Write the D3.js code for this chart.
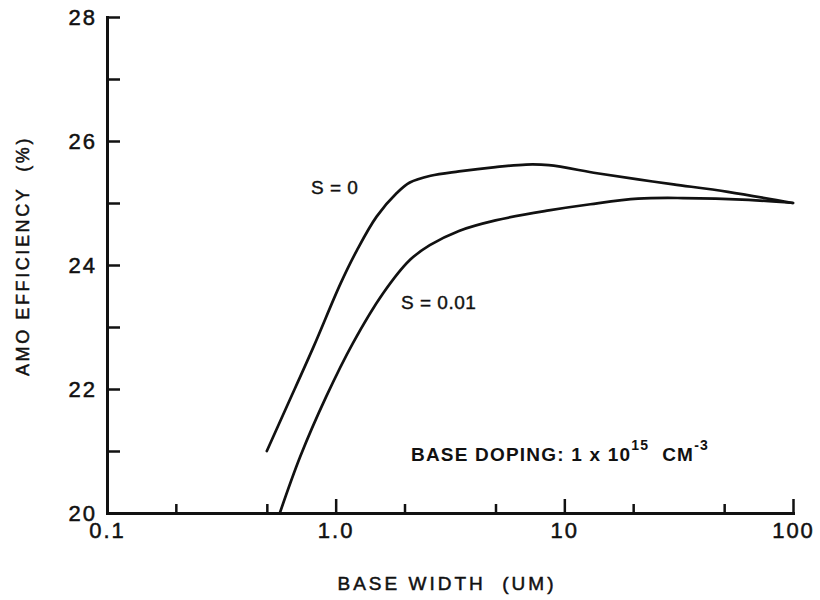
<!DOCTYPE html>
<html>
<head>
<meta charset="utf-8">
<script src="https://cdn.jsdelivr.net/npm/d3@7"></script>
<style>
  body { margin: 0; background: #fff; }
  text { font-family: "Liberation Sans", Arial, sans-serif; fill: #111; }
</style>
</head>
<body>
<script>
var width = 820,
    height = 600;

var margin = {top: 17, right: 27, bottom: 87, left: 107};

// base width (um) and AMO efficiency (%)
var s0_width = [0.5, 0.61, 0.8, 1.05, 1.24, 1.51, 1.85, 2.11, 2.6, 3.46, 5, 6.8, 8.55, 13.9, 21, 30, 51.9, 100];
var s0_eff   = [21.0, 21.71, 22.68, 23.70, 24.24, 24.78, 25.16, 25.33, 25.44, 25.51, 25.58, 25.62, 25.61, 25.48, 25.38, 25.3, 25.18, 25.0];

var s001_width = [0.57, 0.7, 0.91, 1.19, 1.61, 2.11, 2.58, 3.46, 5.0, 8.55, 13, 21, 33, 64, 100];
var s001_eff   = [20.0, 20.91, 21.88, 22.74, 23.54, 24.08, 24.32, 24.55, 24.72, 24.88, 24.98, 25.07, 25.08, 25.05, 25.0];

var xMajor = [0.1, 1, 10, 100],
    xMinor = [0.2, 0.5, 2, 5, 20, 50],
    xLabels = ["0.1", "1.0", "10", "100"];
var yTicks = [20, 21, 22, 23, 24, 25, 26, 27, 28],
    yLabeled = [20, 22, 24, 26, 28];

var svg = d3.select("body").append("svg")
    .attr("width", width)
    .attr("height", height);

var xScale = d3.scaleLog()
    .domain([0.1, 100])
    .range([margin.left, width - margin.right]);

var yScale = d3.scaleLinear()
    .domain([20, 28])
    .range([height - margin.bottom, margin.top]);

var y0 = height - margin.bottom;

// x axis, major ticks + labels
var axisX = d3.axisBottom(xScale)
    .tickValues(xMajor)
    .tickSizeInner(-14)
    .tickSizeOuter(0)
    .tickPadding(9)
    .tickFormat(function (d, i) { return xLabels[i]; });

svg.append("g")
    .attr("transform", "translate(0," + y0 + ")")
    .call(axisX);

svg.append("g")
    .attr("transform", "translate(0," + y0 + ")")
    .call(d3.axisBottom(xScale).tickValues(xMinor).tickSizeInner(-9).tickSizeOuter(0).tickFormat(""))
    .select(".domain").remove();

var axisY = d3.axisLeft(yScale)
    .tickValues(yTicks)
    .tickSizeInner(-13)
    .tickSizeOuter(0)
    .tickPadding(10)
    .tickFormat(function (d) { return yLabeled.indexOf(d) >= 0 ? d : ""; });

svg.append("g")
    .attr("transform", "translate(" + margin.left + ",0)")
    .call(axisY);

svg.selectAll(".domain").attr("stroke", "#111").attr("stroke-width", 3).attr("stroke-linecap", "square");
svg.selectAll(".tick line").attr("stroke", "#111").attr("stroke-width", 2.5);
svg.selectAll(".tick text")
    .style("font-family", "'Liberation Sans', Arial, sans-serif")
    .style("font-size", "22px")
    .style("letter-spacing", "2px")
    .attr("fill", "#111")
    .attr("stroke", "#111")
    .attr("stroke-width", 0.5);

// axis titles
svg.append("text")
    .attr("transform", "translate(29,256) rotate(-90)")
    .attr("text-anchor", "middle")
    .attr("stroke", "#111").attr("stroke-width", 0.5)
    .style("font-size", "18px")
    .style("letter-spacing", "2.6px")
    .style("white-space", "pre")
    .text("AMO EFFICIENCY  (%)");

svg.append("text")
    .attr("x", 447)
    .attr("y", 590)
    .attr("text-anchor", "middle")
    .attr("stroke", "#111").attr("stroke-width", 0.5)
    .style("font-size", "19px")
    .style("letter-spacing", "3px")
    .style("white-space", "pre")
    .text("BASE WIDTH  (UM)");

// curves
var line = d3.line()
    .x(function (d) { return xScale(d[0]); })
    .y(function (d) { return yScale(d[1]); })
    .curve(d3.curveCatmullRom.alpha(0.5));

var curves = [
    {name: "S = 0", pts: d3.zip(s0_width, s0_eff)},
    {name: "S = 0.01", pts: d3.zip(s001_width, s001_eff)}
];

curves.forEach(function (c) {
    svg.append("path")
        .datum(c.pts)
        .attr("fill", "none")
        .attr("stroke", "#111")
        .attr("stroke-width", 2.7)
        .attr("stroke-linecap", "round")
        .attr("d", line);
});

// labels on curves
svg.append("text")
    .attr("x", 311).attr("y", 194)
    .attr("stroke", "#111").attr("stroke-width", 0.4)
    .style("font-size", "19px")
    .style("letter-spacing", "0.5px")
    .style("white-space", "pre")
    .text("S = 0");

svg.append("text")
    .attr("x", 401).attr("y", 309)
    .attr("stroke", "#111").attr("stroke-width", 0.4)
    .style("font-size", "19px")
    .style("letter-spacing", "0.5px")
    .style("white-space", "pre")
    .text("S = 0.01");

var note = svg.append("text")
    .attr("x", 411).attr("y", 461)
    .style("font-size", "19px")
    .style("font-weight", "bold")
    .style("letter-spacing", "1.2px")
    .style("white-space", "pre");
note.append("tspan").text("BASE DOPING: 1 x 10");
note.append("tspan").attr("dy", -11).style("font-size", "14px").text("15");
note.append("tspan").attr("dy", 11).text("  CM");
note.append("tspan").attr("dy", -11).style("font-size", "14px").text("-3");
</script>
</body>
</html>
